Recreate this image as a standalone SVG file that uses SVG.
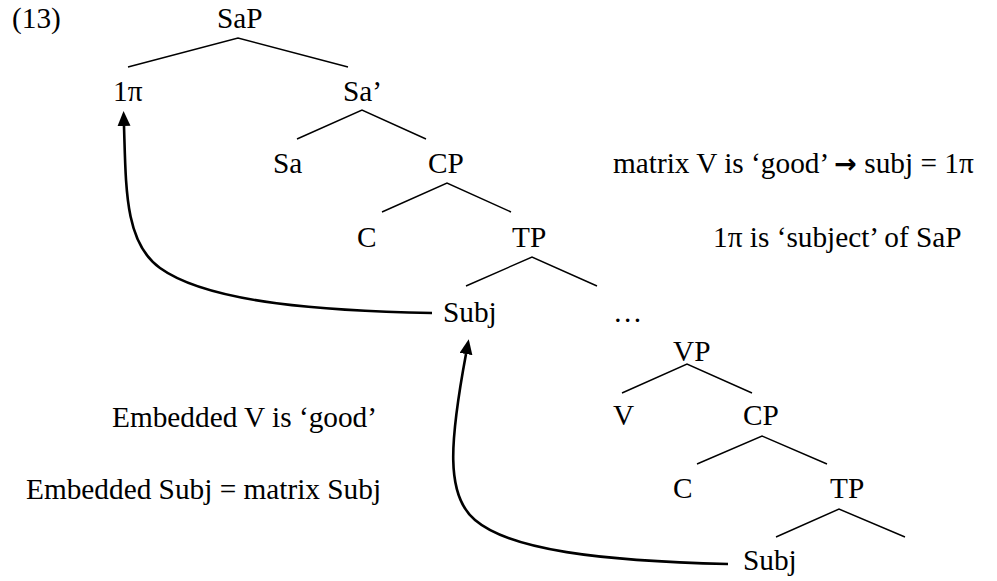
<svg xmlns="http://www.w3.org/2000/svg" width="997" height="581" viewBox="0 0 997 581">
  <style>
    text { font-family: "Liberation Serif", "Times New Roman", serif; font-size: 29.3px; fill: #000; }
    .branch { fill: none; stroke: #000; stroke-width: 1.4; }
    .move { fill: none; stroke: #000; stroke-width: 2.6; }
    .sym { font-family: "DejaVu Sans", sans-serif; font-weight: bold; font-size: 27px; }
  </style>
  <defs>
    <marker id="head" markerUnits="userSpaceOnUse" markerWidth="16" markerHeight="14" refX="0" refY="6.5" orient="auto">
      <path d="M0,0 L15,6.5 L0,13 Z" fill="#000"/>
    </marker>
  </defs>

  <text x="12" y="28">(13)</text>

  <!-- upper tree -->
  <g id="SaP"><text x="217" y="28">SaP</text></g>
  <g id="one-pi"><text x="113" y="101">1π</text></g>
  <g id="Sa-bar"><text x="343" y="101">Sa’</text></g>
  <g id="Sa"><text x="273" y="173">Sa</text></g>
  <g id="CP1"><text x="428" y="173">CP</text></g>
  <g id="C1"><text x="357" y="247">C</text></g>
  <g id="TP1"><text x="512" y="247">TP</text></g>
  <g id="Subj1"><text x="443" y="322">Subj</text></g>
  <g id="ellipsis"><text x="613" y="322">…</text></g>

  <!-- embedded tree -->
  <g id="VP"><text x="673" y="361">VP</text></g>
  <g id="V"><text x="613" y="425">V</text></g>
  <g id="CP2"><text x="743" y="425">CP</text></g>
  <g id="C2"><text x="673" y="498">C</text></g>
  <g id="TP2"><text x="830" y="498">TP</text></g>
  <g id="Subj2"><text x="743" y="570">Subj</text></g>

  <!-- annotations -->
  <g id="note-matrix"><text x="613" y="173">matrix V is ‘good’ <tspan class="sym">→</tspan> subj = 1π</text></g>
  <g id="note-subject"><text x="713" y="247">1π is ‘subject’ of SaP</text></g>
  <g id="note-embedded-v"><text x="112" y="427">Embedded V is ‘good’</text></g>
  <g id="note-embedded-subj"><text x="26" y="499">Embedded Subj = matrix Subj</text></g>

  <g id="connectors">
    <polyline class="branch" points="128,67 238,38 348,67"/>
    <polyline class="branch" points="297,139 362,110 426,139"/>
    <polyline class="branch" points="382,212 447,183 511,212"/>
    <polyline class="branch" points="466,286 532,257 597,286"/>
    <polyline class="branch" points="622,393 687,364 752,393"/>
    <polyline class="branch" points="697,464 762,436 827,464"/>
    <polyline class="branch" points="776,537 839,509 905,537"/>

    <path class="move" marker-end="url(#head)" d="M432,313 C330,311 210,304 160,268 C125,243 126,190 124,126"/>
    <path class="move" marker-end="url(#head)" d="M728,564 C600,561 510,550 475,520 C445,495 450,440 466,354"/>
  </g>
</svg>
